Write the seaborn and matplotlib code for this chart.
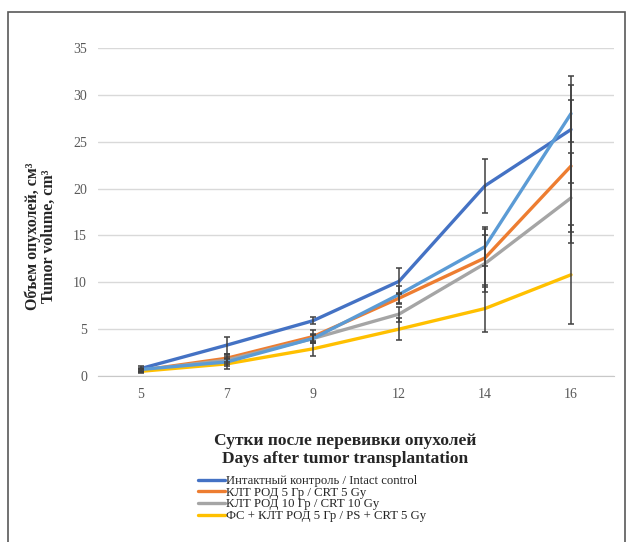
import pandas as pd
import numpy as np
import matplotlib
matplotlib.use("Agg")
import matplotlib.pyplot as plt
import seaborn as sns
from matplotlib.patches import Rectangle
from matplotlib.lines import Line2D

days = ["5", "7", "9", "12", "14", "16"]
series_names = [
    "Интактный контроль / Intact control",
    "КЛТ РОД 5 Гр / CRT 5 Gy",
    "КЛТ РОД 10 Гр / CRT 10 Gy",
    "ФС + КЛТ РОД 5 Гр / PS + CRT 5 Gy",
    "extra",
]
intact = [0.8, 3.3, 5.9, 10.1, 20.3, 26.3]
crt5 = [0.6, 1.9, 4.2, 8.3, 12.6, 22.4]
crt10 = [0.6, 1.7, 4.0, 6.6, 12.0, 19.0]
ps_crt5 = [0.5, 1.3, 2.9, 5.0, 7.2, 10.8]
extra = [0.7, 1.5, 4.0, 8.7, 13.8, 28.0]

err_intact = [0.3, 0.9, 0.4, 1.4, 2.9, 5.7]
err_crt5 = [0.2, 0.4, 0.7, 0.6, 3.1, 7.0]
err_crt10 = [0.2, 0.4, 0.5, 0.8, 3.0, 4.8]
err_ps_crt5 = [0.2, 0.5, 0.8, 1.2, 2.5, 5.3]
err_extra = [0.2, 0.4, 0.4, 0.9, 2.1, 3.0]

colors = ["#4472C4", "#ED7D31", "#A5A5A5", "#FFC000", "#5B9BD5"]

values = [intact, crt5, crt10, ps_crt5, extra]
errors = [err_intact, err_crt5, err_crt10, err_ps_crt5, err_extra]

rows = []
for name, vals, errs in zip(series_names, values, errors):
    for i, (d, v, e) in enumerate(zip(days, vals, errs)):
        rows.append({"pos": i, "day": d, "series": name, "volume": v, "err": e})
df = pd.DataFrame(rows)

sns.set_style("white")
plt.rcParams['font.family'] = ['Liberation Serif', 'DejaVu Serif']

fig = plt.figure(figsize=(6.36, 5.42), dpi=100)
ax = fig.add_axes([98/636, 1-376/542, 516/636, 328/542])

for name, c in zip(series_names, colors):
    sub = df[df["series"] == name]
    sns.lineplot(data=sub, x="pos", y="volume", color=c, lw=2.4, ax=ax,
                 legend=False, errorbar=None)
for name in series_names:
    sub = df[df["series"] == name]
    ax.errorbar(sub["pos"], sub["volume"], yerr=sub["err"], fmt="none",
                ecolor="#404040", elinewidth=1.1, capsize=2.2, capthick=1.1, zorder=5)

ax.set_xlim(-0.5, 5.5)
ax.set_ylim(0, 35)
ax.set_yticks(range(0, 36, 5))
ax.set_xticks(range(len(days)))
ax.set_xticklabels(days)
ax.grid(axis="y", color="#d9d9d9", lw=1)
ax.set_axisbelow(True)
for s in ["top", "left", "right"]:
    ax.spines[s].set_visible(False)
ax.spines["bottom"].set_color("#c8c8c8")
ax.tick_params(axis="both", length=0, labelsize=10, colors="#595959")
ax.tick_params(axis="y", pad=8)
ax.tick_params(axis="x", pad=9)
ax.set_xlabel("")
ax.set_ylabel("")

fig.text(41/636, 1-236/542, "Объем опухолей, см³\nTumor volume, cm³", rotation=90,
         ha="center", va="center", fontsize=11.5, fontweight="bold", linespacing=1.0)
fig.text(345/636, 1-450/542, "Сутки после перевивки опухолей\nDays after tumor transplantation",
         ha="center", va="center", fontsize=12.5, fontweight="bold", linespacing=1.1)

handles = [Line2D([], [], color=c, lw=2.4) for c in colors[:4]]
fig.legend(handles, series_names[:4], loc="upper left", bbox_to_anchor=(198/636, 1-475/542),
           frameon=False, fontsize=9.2, handlelength=2.1, handletextpad=0.1,
           labelspacing=-0.02, borderaxespad=0, borderpad=0)

fig.patches.append(Rectangle((8/636, -0.05), 617/636, 1.05-12/542, transform=fig.transFigure,
                             fill=False, edgecolor="#595959", lw=1.2))

fig.savefig("out.png", dpi=100)
